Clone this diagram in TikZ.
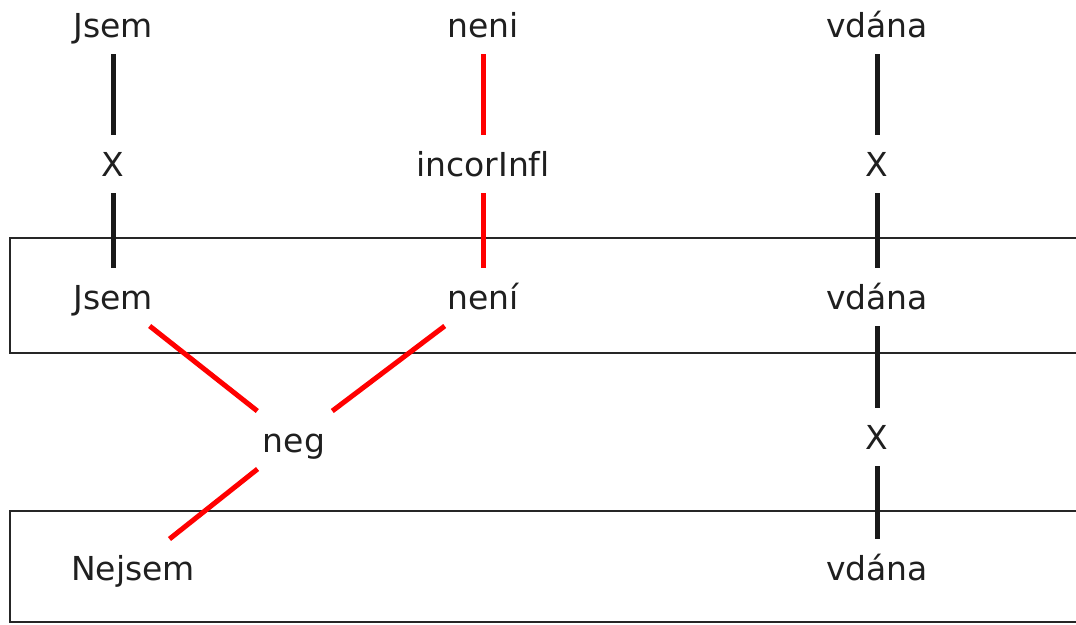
\documentclass[tikz,border=0pt]{standalone}
\usepackage{fontspec}
\setmainfont[Ligatures=CommonOff]{DejaVu Sans}
\begin{document}
\begin{tikzpicture}[x=1pt,y=-1pt,
  lbl/.style={inner xsep=17pt, inner ysep=17pt, outer sep=0pt,
    text height=24pt, text depth=0pt,
    font=\fontsize{33}{40}\selectfont, text=black!88},
  link/.style={line width=5pt, draw=black!90},
  badlink/.style={line width=5pt, draw=red},
  frame/.style={line width=2pt, draw=black!85}]
\useasboundingbox (0,0) rectangle (1076,624);

% sentence frames, open to the right
\draw[frame] (1090,238) -- (10,238) -- (10,353) -- (1090,353);
\draw[frame] (1090,511) -- (10,511) -- (10,622) -- (1090,622);

% top row: written form
\node[lbl] (t1) at (113,25) {Jsem};
\node[lbl] (t2) at (483,25) {neni};
\node[lbl] (t3) at (877,25) {vdána};

% first correction layer
\node[lbl] (x1) at (113,164) {X};
\node[lbl] (x2) at (483,164) {incorInfl};
\node[lbl] (x3) at (877,164) {X};

% first emended row
\node[lbl] (b1) at (113,297) {Jsem};
\node[lbl] (b2) at (483,297) {není};
\node[lbl] (b3) at (877,297) {vdána};

% second correction layer
\node[lbl] (neg) at (294,440) {neg};
\node[lbl] (x4)  at (877,437) {X};

% second emended row
\node[lbl] (c1) at (133,568) {Nejsem};
\node[lbl] (c3) at (877,568) {vdána};

% links
\draw[link] (t1) -- (x1);
\draw[link] (x1) -- (b1);
\draw[badlink] (t2) -- (x2);
\draw[badlink] (x2) -- (b2);
\draw[link] (t3) -- (x3);
\draw[link] (x3) -- (b3);
\draw[link] (b3) -- (x4);
\draw[link] (x4) -- (c3);
\draw[badlink] (b1) -- (neg);
\draw[badlink] (b2) -- (neg);
\draw[badlink] (neg) -- (c1);
\end{tikzpicture}
\end{document}
